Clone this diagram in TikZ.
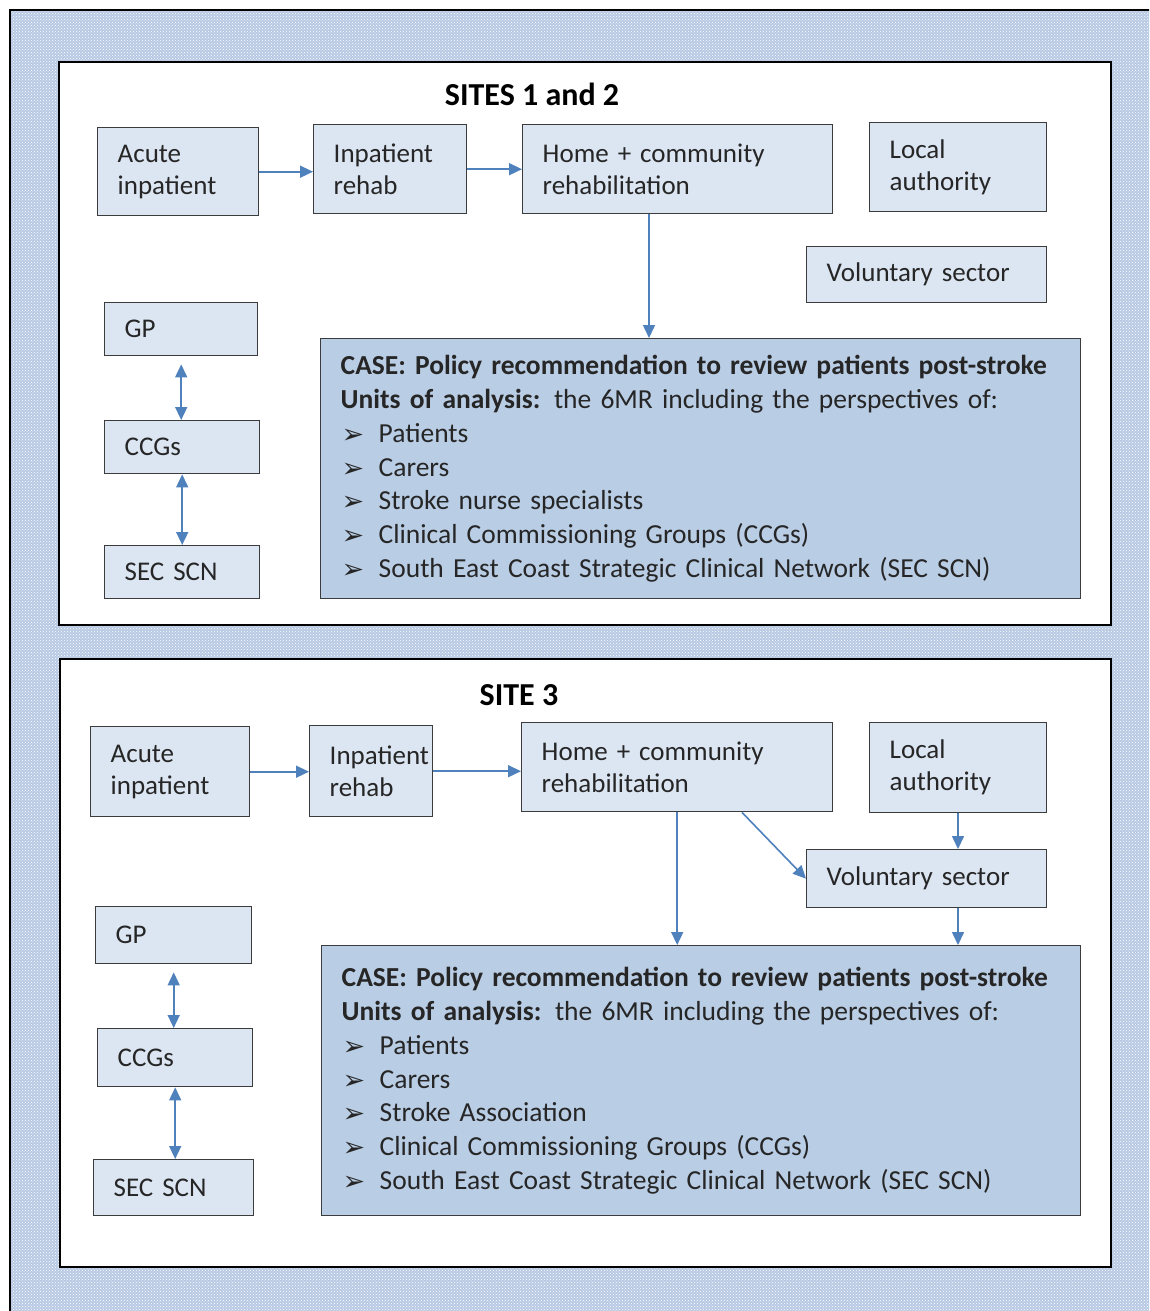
\documentclass[tikz,border=0pt]{standalone}
\usepackage{fontspec}
\setmainfont{Carlito}
\newfontfamily\symfont{DejaVu Sans}
\usetikzlibrary{arrows.meta,patterns}

\definecolor{hatchbg}{RGB}{184,201,228}
\definecolor{boxfill}{RGB}{220,230,242}
\definecolor{casefill}{RGB}{185,205,229}
\definecolor{boxline}{RGB}{60,60,60}
\definecolor{arrowblue}{RGB}{79,129,189}
\definecolor{textgray}{RGB}{38,38,38}

\newcommand\bul{\makebox[38pt][l]{\hspace*{1pt}{\symfont\fontsize{27}{27}\selectfont\raisebox{-1pt}{➢}}}}

\tikzset{
  panel/.style={draw=black, fill=white, line width=1.5pt},
  sbox/.style={draw=boxline, fill=boxfill, line width=1.4pt, anchor=north west,
    inner xsep=20pt, inner ysep=0pt, align=left, text=textgray,
    font=\fontsize{27}{32}\selectfont},
  casebox/.style={sbox, fill=casefill, font=\fontsize{27.5}{33.7}\selectfont},
  sitetitle/.style={font=\bfseries\fontsize{32}{36}\selectfont, text=black},
  arr/.style={draw=arrowblue, line width=1.6pt, -{Triangle[length=13pt,width=12pt]}},
  dbl/.style={draw=arrowblue, line width=1.6pt, {Triangle[length=13pt,width=12pt]}-{Triangle[length=13pt,width=12pt]}},
}

\begin{document}
\begin{tikzpicture}[x=1pt,y=-1pt]
\useasboundingbox (0,0) rectangle (1149,1311);
\clip (0,0) rectangle (1149,1311);

% hatched page background with its frame
\fill[hatchbg] (10,10) rectangle (1170,1330);
\fill[pattern=crosshatch dots, pattern color=white] (10,10) rectangle (1170,1330);
\draw[line width=2.6pt, black] (10,1330) -- (10,10) -- (1170,10);

% two white panels
\draw[panel] (59,62) rectangle (1111,625);
\draw[panel] (60,659) rectangle (1111,1267);

% ---------------- Sites 1 and 2 ----------------
\node[sitetitle] (t1) at (532,94) {SITES 1 and 2};

\node[sbox, text width=121pt, minimum width=161pt, minimum height=88pt] (acA) at (97,127) {Acute\\inpatient};
\node[sbox, text width=113pt, minimum width=153pt, minimum height=89pt] (ipA) at (313,124) {Inpatient\\rehab};
\node[sbox, text width=270pt, minimum width=310pt, minimum height=89pt] (hmA) at (522,124) {Home + community\\rehabilitation};
\node[sbox, text width=137pt, minimum width=177pt, minimum height=89pt] (laA) at (869,122) {Local\\authority};
\node[sbox, text width=200pt, minimum width=240pt, minimum height=56pt] (vsA) at (806,246) {Voluntary sector};
\node[sbox, text width=113pt, minimum width=153pt, minimum height=53pt] (gpA) at (104,302) {GP};
\node[sbox, text width=115pt, minimum width=155pt, minimum height=53pt] (ccA) at (104,420) {CCGs};
\node[sbox, text width=115pt, minimum width=155pt, minimum height=53pt] (scA) at (104,545) {SEC SCN};
\node[casebox, text width=720pt, minimum width=760pt, minimum height=260pt] (csA) at (320,338)
 {\textbf{CASE: Policy recommendation to review patients post-stroke}\\
  \textbf{Units of analysis:} the 6MR including the perspectives of:\\
  \bul Patients\\
  \bul Carers\\
  \bul Stroke nurse specialists\\
  \bul Clinical Commissioning Groups (CCGs)\\
  \bul South East Coast Strategic Clinical Network (SEC SCN)};

\coordinate (dropA) at (649,0);
\draw[arr] (acA.east) -- (acA.east -| ipA.west);
\draw[arr] (ipA.east) -- (ipA.east -| hmA.west);
\draw[arr] (hmA.south -| dropA) -- (csA.north -| dropA);
\draw[dbl, shorten <=8pt] (gpA.south) -- (gpA.south |- ccA.north);
\draw[dbl] (ccA.south) -- (ccA.south |- scA.north);

% ---------------- Site 3 ----------------
\node[sitetitle] (t2) at (519,695) {SITE 3};

\node[sbox, text width=119pt, minimum width=159pt, minimum height=90pt] (acB) at (90,726) {Acute\\inpatient};
\node[sbox, text width=83pt, minimum width=123pt, minimum height=91pt] (ipB) at (309,725) {Inpatient\\rehab};
\node[sbox, text width=271pt, minimum width=311pt, minimum height=89pt] (hmB) at (521,722) {Home + community\\rehabilitation};
\node[sbox, text width=137pt, minimum width=177pt, minimum height=90pt] (laB) at (869,722) {Local\\authority};
\node[sbox, text width=200pt, minimum width=240pt, minimum height=58pt] (vsB) at (806,849) {Voluntary sector};
\node[sbox, text width=116pt, minimum width=156pt, minimum height=57pt] (gpB) at (95,906) {GP};
\node[sbox, text width=115pt, minimum width=155pt, minimum height=58pt] (ccB) at (97,1028) {CCGs};
\node[sbox, text width=120pt, minimum width=160pt, minimum height=56pt] (scB) at (93,1159) {SEC SCN};
\node[casebox, text width=719pt, minimum width=759pt, minimum height=270pt] (csB) at (321,945)
 {\textbf{CASE: Policy recommendation to review patients post-stroke}\\
  \textbf{Units of analysis:} the 6MR including the perspectives of:\\
  \bul Patients\\
  \bul Carers\\
  \bul Stroke Association\\
  \bul Clinical Commissioning Groups (CCGs)\\
  \bul South East Coast Strategic Clinical Network (SEC SCN)};

\coordinate (diagB) at (742,0);
\coordinate (laxB) at (958,0);
\draw[arr] (acB.east) -- (acB.east -| ipB.west);
\draw[arr] (ipB.east) -- (ipB.east -| hmB.west);
\draw[arr] (hmB.south) -- (hmB.south |- csB.north);
\draw[arr] (hmB.south -| diagB) -- (vsB.west);
\draw[arr] (laB.south -| laxB) -- (vsB.north -| laxB);
\draw[arr] (vsB.south -| laxB) -- (csB.north -| laxB);
\draw[dbl, shorten <=8pt] (gpB.south) -- (gpB.south |- ccB.north);
\draw[dbl] (ccB.south) -- (ccB.south |- scB.north);
\end{tikzpicture}
\end{document}
